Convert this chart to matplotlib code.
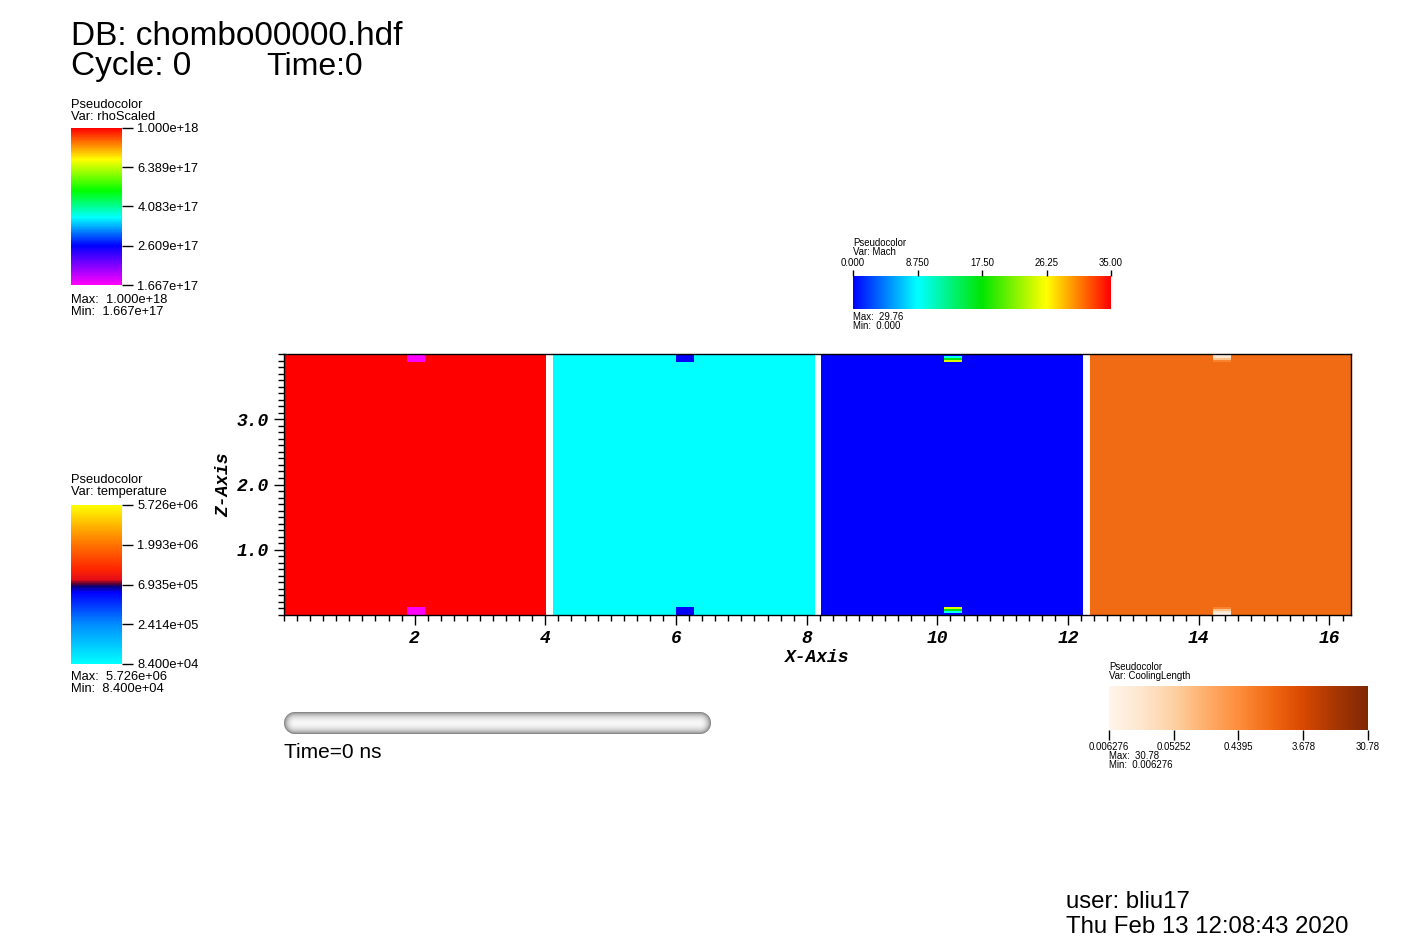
import numpy as np
import matplotlib
matplotlib.use('Agg')
import matplotlib.pyplot as plt
from matplotlib.colors import LinearSegmentedColormap, LogNorm, Normalize
from matplotlib.ticker import MultipleLocator

W, H = 1423, 948
FONT = ['Liberation Sans', 'DejaVu Sans']
AXFONT = dict(family=['Liberation Mono', 'DejaVu Sans Mono'], weight='bold', style='italic', size=13)

# ---- data: four 4x4 fields shown side by side ----
var_names = ['rhoScaled', 'temperature', 'Mach', 'CoolingLength']
background = [1.0e18, 8.4e4, 0.0, 1.2]
# small blocks at top and bottom, rows listed from the boundary inward
patch_rows = [
    [1.667e17, 1.667e17, 1.667e17, 1.667e17],
    [5.6e5, 5.6e5, 5.6e5, 5.6e5],
    [0.0, 9.0, 17.0, 25.0],
    [0.0065, 0.02, 0.08, 0.6],
]
panel_x0 = [0.0, 4.11, 8.22, 12.33]

# legend ranges / ticks
rho_range = (1.667e17, 1.0e18)
rho_ticks = [1.667e17, 2.609e17, 4.083e17, 6.389e17, 1.000e18]
temp_range = (8.4e4, 5.726e6)
temp_ticks = [8.400e4, 2.414e5, 6.935e5, 1.993e6, 5.726e6]
mach_range = (0.0, 35.0)
mach_ticks = [0.0, 8.75, 17.5, 26.25, 35.0]
mach_labels = ['0.000', '8.750', '17.50', '26.25', '35.00']
cool_range = (0.006276, 30.78)
cool_ticks = [0.006276, 0.05252, 0.4395, 3.678, 30.78]
cool_labels = ['0.006276', '0.05252', '0.4395', '3.678', '30.78']
max_min = {
    'rhoScaled': ('1.000e+18', '1.667e+17'),
    'temperature': ('5.726e+06', '8.400e+04'),
    'Mach': ('29.76', '0.000'),
    'CoolingLength': ('30.78', '0.006276'),
}

# ---- colormaps ----
rho_cmap = LinearSegmentedColormap.from_list('rho', [
    (0.0, (1, 0, 1)), (0.25, (0, 0, 1)), (0.43, (0, 1, 1)),
    (0.6, (0, 1, 0)), (0.8, (1, 1, 0)), (1.0, (1, 0, 0))])
temp_cmap = LinearSegmentedColormap.from_list('temp', [
    (0.0, (0, 1, 1)), (0.25, (0, 0.55, 1)), (0.45, (0, 0, 1)),
    (0.49, (0.05, 0, 0.45)), (0.505, (0.35, 0, 0.2)), (0.53, (0.9, 0.05, 0.1)),
    (0.6, (1, 0.15, 0)), (0.8, (1, 0.55, 0)), (1.0, (1, 1, 0))])
mach_cmap = LinearSegmentedColormap.from_list('mach', [
    (0.0, (0, 0, 1)), (0.25, (0, 1, 1)), (0.5, (0, 0.9, 0)),
    (0.75, (1, 1, 0)), (1.0, (1, 0, 0))])
cool_cmap = plt.get_cmap('Oranges')

cmaps = [rho_cmap, temp_cmap, mach_cmap, cool_cmap]
norms = [LogNorm(*rho_range), LogNorm(*temp_range), Normalize(*mach_range), LogNorm(*cool_range)]

NCELL = 128
P0, P1 = 60, 69


def build_field(bg, rows):
    f = np.full((NCELL, NCELL), bg, dtype=float)
    for i, v in enumerate(rows):
        f[i, P0:P1] = v
        f[NCELL - 1 - i, P0:P1] = v
    return f


def put(px, py, s, size, **kw):
    fig.text(px / W, 1 - py / H, s, fontsize=size, family=FONT, va='baseline', ha='left', **kw)


fig = plt.figure(figsize=(W / 100, H / 100), dpi=100)
fig.patch.set_facecolor('white')

ax = fig.add_axes([284 / W, 1 - 615 / H, (1351 - 284) / W, (615 - 354) / H])
images = []
for name, bg, rows, x0, cm, nm in zip(var_names, background, patch_rows, panel_x0, cmaps, norms):
    im = ax.imshow(build_field(bg, rows), extent=(x0, x0 + 4, 0, 4), origin='lower',
                   cmap=cm, norm=nm, interpolation='nearest', aspect='auto')
    images.append(im)
ax.set_xlim(0, 16.33)
ax.set_ylim(0, 4)
ax.set_xticks(np.arange(2, 17, 2))
ax.set_xticklabels([str(v) for v in range(2, 17, 2)], fontdict=AXFONT)
ax.set_yticks([1, 2, 3])
ax.set_yticklabels(['1.0', '2.0', '3.0'], fontdict=AXFONT)
ax.xaxis.set_minor_locator(MultipleLocator(0.2))
ax.yaxis.set_minor_locator(MultipleLocator(0.1))
ax.tick_params(which='major', direction='out', length=7, width=1, pad=4)
ax.tick_params(which='minor', direction='out', length=4, width=1)
ax.set_xlabel('X-Axis', fontdict=AXFONT, labelpad=1)
ax.set_ylabel('Z-Axis', fontdict=AXFONT, labelpad=3)
for sp in ax.spines.values():
    sp.set_linewidth(1)


def add_cbar(im, box, orient, loc, ticks, labels, size, tlen, pad):
    l, t, r, b = box
    cax = fig.add_axes([l / W, 1 - b / H, (r - l) / W, (b - t) / H])
    cb = fig.colorbar(im, cax=cax, orientation=orient, ticklocation=loc)
    cb.set_ticks(ticks)
    cb.set_ticklabels(labels)
    cb.ax.minorticks_off()
    cb.outline.set_visible(False)
    cb.ax.tick_params(which='major', length=tlen, width=1, labelsize=size, pad=pad)
    for lab in (cb.ax.get_xticklabels() + cb.ax.get_yticklabels()):
        lab.set_family(FONT)
    return cb


add_cbar(images[0], (71, 128, 122, 285), 'vertical', 'right', rho_ticks,
         ['%.3e' % v for v in rho_ticks], 9.3, 8, 3)
add_cbar(images[1], (71, 505, 122, 664), 'vertical', 'right', temp_ticks,
         ['%.3e' % v for v in temp_ticks], 9.3, 8, 3)
add_cbar(images[2], (853, 276, 1111, 309), 'horizontal', 'top', mach_ticks,
         mach_labels, 6.9, 4.6, 1.5)
add_cbar(images[3], (1109, 686, 1368, 730), 'horizontal', 'bottom', cool_ticks,
         cool_labels, 6.9, 7, 1.5)

# legend titles and max/min
put(71, 108, 'Pseudocolor', 9.3)
put(71, 120, 'Var: rhoScaled', 9.3)
put(71, 303, 'Max:  ' + max_min['rhoScaled'][0], 9.3)
put(71, 315, 'Min:  ' + max_min['rhoScaled'][1], 9.3)
put(71, 483, 'Pseudocolor', 9.3)
put(71, 495, 'Var: temperature', 9.3)
put(71, 680, 'Max:  ' + max_min['temperature'][0], 9.3)
put(71, 692, 'Min:  ' + max_min['temperature'][1], 9.3)
put(853, 246, 'Pseudocolor', 6.9)
put(853, 255, 'Var: Mach', 6.9)
put(853, 320, 'Max:  ' + max_min['Mach'][0], 6.9)
put(853, 329, 'Min:  ' + max_min['Mach'][1], 6.9)
put(1109, 670, 'Pseudocolor', 6.9)
put(1109, 679, 'Var: CoolingLength', 6.9)
put(1109, 759, 'Max:  ' + max_min['CoolingLength'][0], 6.9)
put(1109, 768, 'Min:  ' + max_min['CoolingLength'][1], 6.9)

# header / footer
put(71, 45, 'DB: chombo00000.hdf', 24)
put(71, 75, 'Cycle: 0', 24)
put(266, 75, 'Time:0', 23)
put(284, 758, 'Time=0 ns', 15)
put(1066, 908, 'user: bliu17', 17.3)
put(1066, 933, 'Thu Feb 13 12:08:43 2020', 17.3)

# time slider tube
TW, TH = 426, 22
sx, sy = np.meshgrid(np.arange(TW) + 0.5, np.arange(TH) + 0.5)
rad = TH / 2
cx = np.clip(sx, rad, TW - rad)
d = np.hypot(sx - cx, sy - rad) / rad
shade = np.sqrt(np.clip(1 - d ** 2, 0, 1))
gray = 0.42 + 0.55 * shade ** 1.3
rgba = np.dstack([gray, gray, gray, np.clip((1 - d) * rad + 0.5, 0, 1)])
tax = fig.add_axes([284 / W, 1 - 734 / H, TW / W, TH / H])
tax.imshow(rgba, extent=(0, TW, TH, 0), interpolation='bilinear', aspect='auto')
tax.set_axis_off()

fig.savefig('out.png', dpi=100, facecolor='white')
